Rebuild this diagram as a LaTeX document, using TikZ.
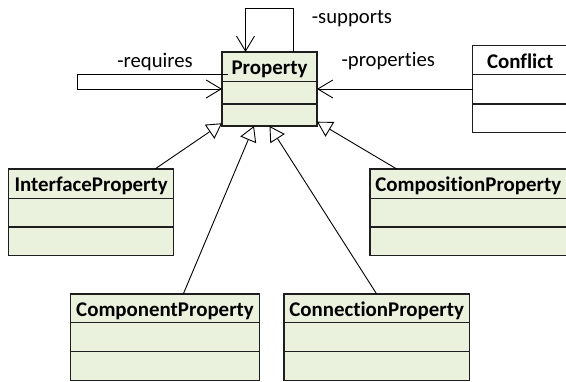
\documentclass[tikz,border=0pt]{standalone}
\usepackage{fontspec}
\setmainfont{Carlito}[Ligatures=NoCommon]
\usetikzlibrary{arrows.meta,calc}
\definecolor{boxfill}{HTML}{EAF1DD}
\definecolor{boxline}{HTML}{1E1E1E}

\newcommand\UmlClass[9]{%
  \node[classbox, fill=#9, minimum width={(#4-#2)*1pt}, minimum height={(#5-#3)*1pt}] (#1) at (#2,#3) {};
  \draw[divider] (#2,#6) -- (#4,#6);
  \draw[divider] (#2,#7) -- (#4,#7);
  \node[classname] (#1-name) at ({(#2+#4)/2},{#3+23}) {#8};
}

\begin{document}
\begin{tikzpicture}[x=1pt,y=-1pt,
  font=\fontsize{20.7}{24}\selectfont,
  classbox/.style={draw=boxline, line width=1.3pt, anchor=north west, inner sep=0pt, outer sep=0pt},
  divider/.style={draw=boxline, line width=1.3pt},
  classname/.style={anchor=base, inner sep=0pt, font=\fontsize{20.9}{24}\selectfont\bfseries},
  lbl/.style={inner sep=0pt},
  assoc/.style={draw=black, line width=0.9pt, -{Straight Barb[length=15pt,width=18pt]}},
  gen/.style={draw=black, line width=0.9pt, -{Triangle[open,length=15pt,width=17pt,fill=white]}}
]
\useasboundingbox (0,0) rectangle (566,382);
\clip (0,0) rectangle (566,382);

\UmlClass{P}{222}{52}{317}{126}{81.7}{104}{Property}{boxfill}
\UmlClass{C}{472.7}{45.7}{567.7}{132.3}{74.3}{104}{Conflict}{white}
\UmlClass{I}{8.7}{169}{173.7}{255.7}{198.3}{227}{InterfaceProperty}{boxfill}
\UmlClass{Cp}{370}{169}{566.5}{255.7}{198.3}{227}{CompositionProperty}{boxfill}
\UmlClass{Cm}{70.7}{294}{259.3}{380.7}{322.7}{351.7}{ComponentProperty}{boxfill}
\UmlClass{Cn}{284}{294}{469.3}{380.7}{322.7}{351.7}{ConnectionProperty}{boxfill}

% associations
\draw[assoc] ([xshift=24pt]P.north) -- ++(0,-44) -| ([xshift=-24pt]P.north);
\draw[assoc] ([xshift=6pt,yshift=14.3pt]P.west) -- ++(-150.7,0) |- (P.west);
\draw[assoc] (C.west) -- (P.east);

% generalizations
\draw[gen] ([xshift=-18.7pt]I.north east) -- ([yshift=2.7pt]P.south west);
\draw[gen] ([xshift=18.3pt]Cm.north) -- ([xshift=32pt]P.south west);
\draw[gen] (Cn.north) -- (P.south);
\draw[gen] ([xshift=26.7pt]Cp.north west) -- ([yshift=4.3pt]P.south east);

% labels
\node[lbl, anchor=base] (lreq) at (155,68) {-requires};
\node[lbl, anchor=base west] (lsup) at (311.7,24) {-supports};
\node[lbl, anchor=base] (lprop) at (388.3,67) {-properties};
\end{tikzpicture}
\end{document}
